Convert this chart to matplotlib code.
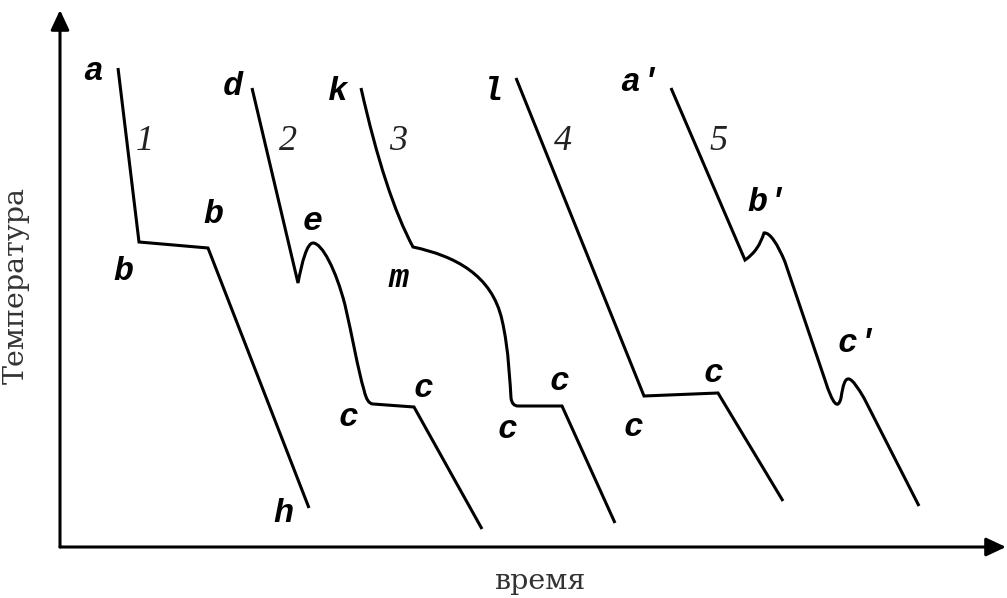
import matplotlib
matplotlib.use("Agg")
import matplotlib.pyplot as plt
from matplotlib.path import Path
from matplotlib.patches import PathPatch, FancyArrowPatch

# Cooling curves: time t (x) vs temperature T (y), arbitrary units.
# Curves made of straight segments (break points).
curve1_t = [58, 79, 148, 249]
curve1_T = [479, 305, 299, 39]

curve4_t = [456, 584, 658, 723]
curve4_T = [469, 151, 154, 46]

# Curves with smooth parts: vertices + path codes (M=move, L=line, Q=quad, C=cubic)
curve2_pts = [(192, 459), (238, 264),
              (242, 285), (247, 304), (253, 304),
              (262, 304), (276, 277), (285, 242),
              (292, 212), (298, 177), (304, 157),
              (307, 143), (313, 143),
              (354, 140), (422, 18)]
curve2_ops = "MLCCCQLL"

curve3_pts = [(301, 459),
              (325, 352), (353, 300),
              (395, 291), (432, 272), (442, 227),
              (449, 197), (450, 162), (451, 149),
              (452, 141), (458, 141),
              (502, 141), (555, 24)]
curve3_ops = "MQCCQLL"

curve5_pts = [(611, 459), (685, 287),
              (695, 294), (700, 302), (704, 314),
              (710, 315), (718, 302), (725, 285),
              (765, 167),
              (773, 142), (778, 137), (781, 149),
              (783, 162), (785, 169), (789, 168),
              (793, 167), (798, 159), (804, 149),
              (859, 41)]
curve5_ops = "MLCCLCCCL"

# Point letters (bold italic) and curve numbers (italic serif)
point_labels = ["a", "b", "b", "h", "d", "e", "c", "c", "k", "m", "c", "c",
                "l", "c", "c", "a'", "b'", "c'"]
point_t = [33, 153, 63, 223, 173, 253, 288, 363, 278, 338, 447, 499,
           433, 573, 653, 580, 707, 797]
point_T = [467, 324, 267, 25, 452, 317, 121, 150, 447, 260, 109, 157,
           447, 111, 165, 456, 336, 195]

curve_numbers = ["1", "2", "3", "4", "5"]
number_t = [85, 228, 338, 503, 658]
number_T = [397, 397, 397, 397, 397]

x_label = "время"
y_label = "Температура"

LW = 2.2


def build_path(pts, ops):
    codes = []
    n_for = {"M": 1, "L": 1, "Q": 2, "C": 3}
    code_for = {"M": Path.MOVETO, "L": Path.LINETO, "Q": Path.CURVE3, "C": Path.CURVE4}
    for op in ops:
        codes += [code_for[op]] * n_for[op]
    return Path(pts, codes)


fig = plt.figure(figsize=(10.07, 5.98), dpi=100)
ax = fig.add_axes([0, 0, 1, 1])
ax.set_xlim(-60, 947)
ax.set_ylim(-51, 547)
ax.axis("off")

for t, T in [(curve1_t, curve1_T), (curve4_t, curve4_T)]:
    ax.plot(t, T, color="black", lw=LW, solid_joinstyle="miter",
            solid_capstyle="butt")

for pts, ops in [(curve2_pts, curve2_ops), (curve3_pts, curve3_ops),
                 (curve5_pts, curve5_ops)]:
    ax.add_patch(PathPatch(build_path(pts, ops), facecolor="none",
                           edgecolor="black", lw=LW, joinstyle="miter",
                           capstyle="butt"))

# Axes with arrow heads
arrow_kw = dict(arrowstyle="-|>,head_length=0.6,head_width=0.28",
                mutation_scale=20, color="black", lw=2.2,
                shrinkA=0, shrinkB=0)
ax.add_patch(FancyArrowPatch((0, 0), (946, 0), **arrow_kw))
ax.add_patch(FancyArrowPatch((0, 0), (0, 537), **arrow_kw))

letter_font = dict(family="Liberation Mono", weight="bold", style="italic",
                   size=24)
for s, t, T in zip(point_labels, point_t, point_T):
    ax.text(t, T, s, ha="center", va="baseline", color="black", **letter_font)

for s, t, T in zip(curve_numbers, number_t, number_T):
    ax.text(t, T, s, ha="center", va="baseline", color="#222222",
            family="Liberation Serif", style="italic", size=26)

ax.text(481, -42, x_label, ha="center", va="baseline",
        family="DejaVu Serif", size=20.5, color="#333333")
ax.text(-36, 261, y_label, ha="center", va="baseline", rotation=90,
        rotation_mode="anchor", family="DejaVu Serif", size=20.5,
        color="#333333")

fig.savefig("out.png", dpi=100)
